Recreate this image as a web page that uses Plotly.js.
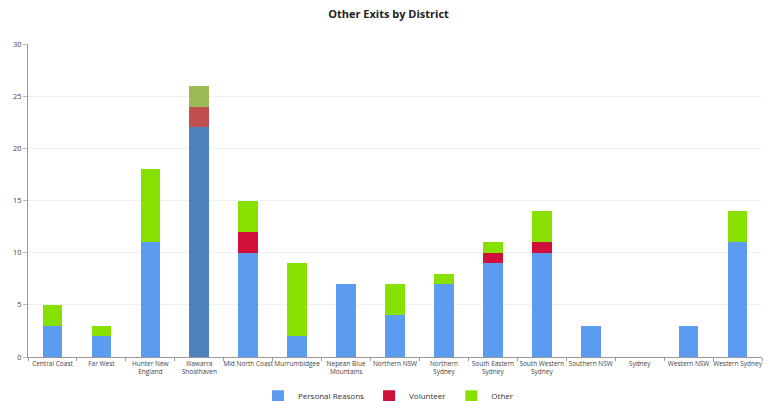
<!DOCTYPE html>
<html>
<head>
<meta charset="utf-8">
<script src="https://cdn.plot.ly/plotly-3.0.1.min.js"></script>
<style>html,body{margin:0;padding:0;background:#fff;}#chart{width:777px;height:401px;}</style>
</head>
<body>
<div id="chart"></div>
<script>
var districts = ["Central Coast","Far West","Hunter New<br>England","Illawarra<br>Shoalhaven","Mid North Coast","Murrumbidgee","Nepean Blue<br>Mountains","Northern NSW","Northern<br>Sydney","South Eastern<br>Sydney","South Western<br>Sydney","Southern NSW","Sydney","Western NSW","Western Sydney"];
var personalReasons = [3,2,11,22,10,2,7,4,7,9,10,3,0,3,11];
var volunteer = [0,0,0,2,2,0,0,0,0,1,1,0,0,0,0];
var other = [2,1,7,2,3,7,0,3,1,1,3,0,0,0,3];
var yTicks = [0,5,10,15,20,25,30];

function colors(bright, muted){
  return districts.map(function(d){ return d.indexOf("Illawarra")===0 ? muted : bright; });
}
var font = "Open Sans, Liberation Sans, sans-serif";
var traces = [
  {name:"Personal Reasons", x:districts, y:personalReasons, type:"bar", marker:{color:colors("#5b9bf0","#4f81bd")}},
  {name:"Volunteer", x:districts, y:volunteer, type:"bar", marker:{color:colors("#d0103a","#c0504d")}},
  {name:"Other", x:districts, y:other, type:"bar", marker:{color:colors("#88e000","#9bbb59")}}
];
var layout = {
  width:777, height:401,
  margin:{l:28, r:15, t:44, b:44},
  barmode:"stack", bargap:0.6,
  paper_bgcolor:"#fff", plot_bgcolor:"#fff",
  title:{text:"<b>Other Exits by District</b>", x:0.5, xanchor:"center", y:0.975, yanchor:"top", font:{family:font, size:11, color:"#222"}},
  font:{family:font, size:7, color:"#444"},
  xaxis:{type:"category", showline:true, linecolor:"#999", linewidth:1, ticks:"outside", tickson:"boundaries", ticklen:3, tickcolor:"#999", tickfont:{size:6.5, color:"#444"}, showgrid:false, tickangle:0, automargin:false},
  yaxis:{range:[0,30], tickvals:yTicks, showline:true, linecolor:"#999", linewidth:1, ticks:"outside", ticklen:4, tickcolor:"#bbb", gridcolor:"#f0f0f0", tickfont:{size:7.5, color:"#444"}, zeroline:false, automargin:false},
  legend:{orientation:"h", x:0.5, xanchor:"center", xref:"container", y:0.012, yanchor:"middle", yref:"container", font:{size:8, color:"#333"}, itemwidth:30, traceorder:"normal", tracegroupgap:0},
  showlegend:true
};
Plotly.newPlot("chart", traces, layout, {displayModeBar:false, staticPlot:true});
</script>
</body>
</html>
